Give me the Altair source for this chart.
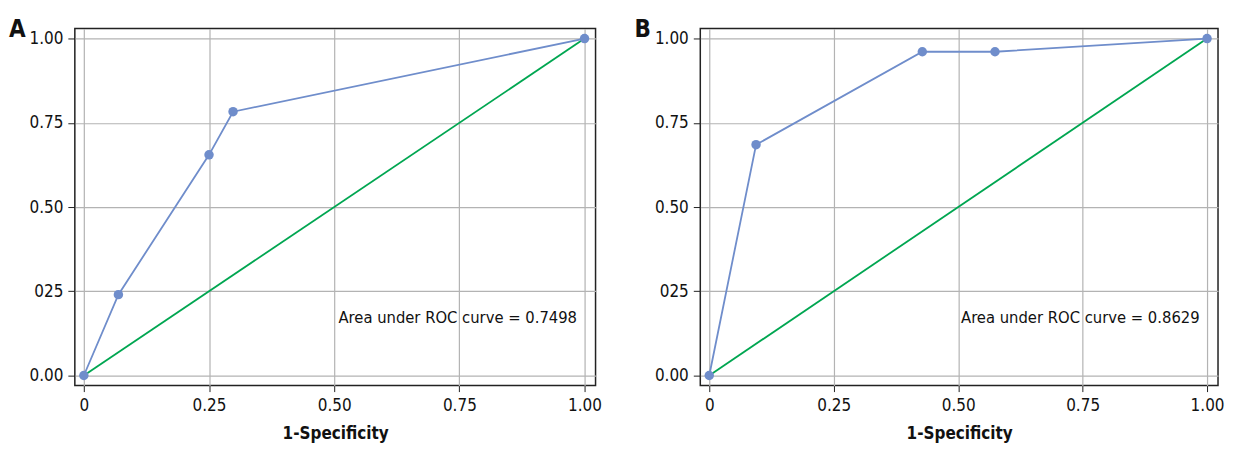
import altair as alt
import pandas as pd

# Panel A ROC points
fpr_a = [0.0, 0.069, 0.25, 0.298, 1.0]
tpr_a = [0.0, 0.24, 0.655, 0.783, 1.0]
# Panel B ROC points
fpr_b = [0.0, 0.094, 0.428, 0.574, 1.0]
tpr_b = [0.0, 0.685, 0.961, 0.961, 1.0]
# reference diagonal
diag_x = [0.0, 1.0]
diag_y = [0.0, 1.0]

labels = ["A", "B"]
auc_texts = ["Area under ROC curve = 0.7498", "Area under ROC curve = 0.8629"]
tick_vals = [0, 0.25, 0.5, 0.75, 1.0]
x_tick_labels = ["0", "0.25", "0.50", "0.75", "1.00"]
y_tick_labels = ["0.00", "025", "0.50", "0.75", "1.00"]

FONT = "DejaVu Sans Condensed, sans-serif"
BLUE = "#6f8dcb"
GREEN = "#00a651"


def label_expr(vals, labs):
    parts = []
    for v, l in zip(vals, labs):
        parts.append(f"datum.value == {v} ? '{l}'")
    return " : ".join(parts) + " : ''"


def panel(fx, fy, letter, auc, w, h):
    roc = pd.DataFrame({"x": fx, "y": fy})
    diag = pd.DataFrame({"x": diag_x, "y": diag_y})
    xs = alt.Scale(domain=[-0.018, 1.022], nice=False, zero=False)
    ys = alt.Scale(domain=[-0.03, 1.03], nice=False, zero=False)
    xax = alt.Axis(values=tick_vals, labelExpr=label_expr(tick_vals, x_tick_labels),
                   title="1-Specificity", grid=True, gridColor="#b3b3b3", gridWidth=1.2,
                   domain=False, tickColor="#222", tickSize=6, labelFont=FONT,
                   labelFontSize=17, labelColor="#111", titleFont=FONT, titleFontSize=17,
                   titleFontWeight="bold", titleColor="#111", labelPadding=6, titlePadding=12)
    yax = alt.Axis(values=tick_vals, labelExpr=label_expr(tick_vals, y_tick_labels),
                   title=None, grid=True, gridColor="#b3b3b3", gridWidth=1.2,
                   domain=False, tickColor="#222", tickSize=7, labelFont=FONT,
                   labelFontSize=17, labelColor="#111", labelPadding=5,
                   minExtent=45, maxExtent=45)
    base_d = alt.Chart(diag).mark_line(color=GREEN, strokeWidth=1.8).encode(
        x=alt.X("x:Q", scale=xs, axis=xax), y=alt.Y("y:Q", scale=ys, axis=yax))
    line = alt.Chart(roc).mark_line(color=BLUE, strokeWidth=1.8).encode(
        x=alt.X("x:Q", scale=xs), y=alt.Y("y:Q", scale=ys))
    pts = alt.Chart(roc).mark_circle(color=BLUE, size=90, opacity=1).encode(
        x=alt.X("x:Q", scale=xs), y=alt.Y("y:Q", scale=ys))
    txt_df = pd.DataFrame({"x": [0.985], "y": [0.17], "t": [auc]})
    txt = alt.Chart(txt_df).mark_text(align="right", baseline="middle", font=FONT,
                                      fontSize=16.5, color="#111").encode(
        x=alt.X("x:Q", scale=xs), y=alt.Y("y:Q", scale=ys), text="t:N")
    let_df = pd.DataFrame({"t": [letter]})
    let = alt.Chart(let_df).mark_text(align="left", baseline="alphabetic", font=FONT,
                                      fontSize=24, fontWeight="bold", color="#111").encode(
        x=alt.value(-66), y=alt.value(9), text="t:N")
    return alt.layer(base_d, line, pts, txt, let).properties(width=w, height=h)


chart = alt.hconcat(
    panel(fpr_a, tpr_a, labels[0], auc_texts[0], 522, 358),
    panel(fpr_b, tpr_b, labels[1], auc_texts[1], 519, 358),
    spacing=31,
).properties(padding={"left": 0, "top": 9, "right": 0, "bottom": 0}).configure_view(
    stroke="#222", strokeWidth=1.5
).configure_axis(labelFlush=False)

chart.save("out.html", embed_options={"renderer": "svg", "actions": False})
